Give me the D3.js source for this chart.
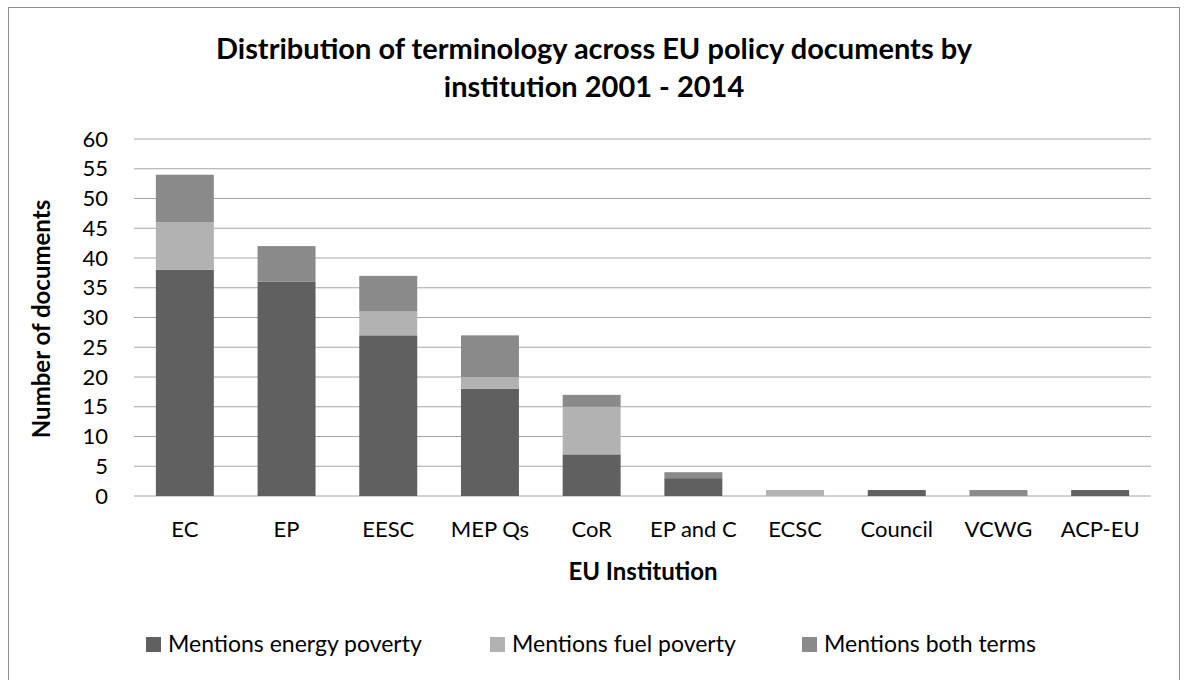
<!DOCTYPE html>
<html><head><meta charset="utf-8">
<script src="https://cdn.jsdelivr.net/npm/d3@7/dist/d3.min.js"></script>
<style>body{margin:0;background:#fff}svg{display:block}text{font-family:Lato,"Open Sans",sans-serif}</style>
</head><body><svg id="c" width="1186" height="680"></svg>
<script>
const categories = ["EC","EP","EESC","MEP Qs","CoR","EP and C","ECSC","Council","VCWG","ACP-EU"];
const energyPoverty = [38,36,27,18,7,3,0,1,0,1];
const fuelPoverty   = [8,0,4,2,8,0,1,0,0,0];
const bothTerms     = [8,6,6,7,2,1,0,0,1,0];
const seriesNames = ["Mentions energy poverty","Mentions fuel poverty","Mentions both terms"];
const yTicks = [0,5,10,15,20,25,30,35,40,45,50,55,60];
const colors = ["#606060","#b2b2b2","#8a8a8a"];

const svg = d3.select("#c");
svg.append("rect").attr("x",8.5).attr("y",7.5).attr("width",1171).attr("height",690)
  .attr("fill","#fff").attr("stroke","#8f8f8f");

const m = {l:134,r:1151,t:139,b:496};
const x = d3.scaleBand().domain(categories).range([m.l,m.r]).paddingInner(0.43).paddingOuter(0.215);
const y = d3.scaleLinear().domain([0,60]).range([m.b,m.t]);

svg.append("g").selectAll("line").data(yTicks).join("line")
  .attr("x1",m.l).attr("x2",m.r).attr("y1",d=>y(d)).attr("y2",d=>y(d))
  .attr("stroke","#a6a6a6").attr("stroke-width",1.2);

const table = categories.map((c,i)=>({cat:c,s0:energyPoverty[i],s1:fuelPoverty[i],s2:bothTerms[i]}));
const stack = d3.stack().keys(["s0","s1","s2"])(table);
svg.append("g").selectAll("g").data(stack).join("g").attr("fill",(d,i)=>colors[i])
  .selectAll("rect").data(d=>d.filter(p=>p[1]>p[0])).join("rect")
  .attr("x",d=>x(d.data.cat)).attr("width",x.bandwidth())
  .attr("y",d=>y(d[1])).attr("height",d=>y(d[0])-y(d[1]));

const ya = svg.append("g").attr("transform",`translate(108,0)`)
  .call(d3.axisLeft(y).tickValues(yTicks).tickSize(0).tickPadding(0));
ya.select(".domain").remove();
ya.selectAll("text").attr("font-size",22).attr("fill","#000").attr("font-family","Lato, sans-serif");

const xa = svg.append("g").attr("transform",`translate(0,${m.b})`)
  .call(d3.axisBottom(x).tickSize(0).tickPadding(0));
xa.select(".domain").remove();
xa.selectAll("text").attr("font-size",22).attr("fill","#000").attr("font-family","Lato, sans-serif")
  .attr("dy",null).attr("y",41);

svg.append("text").attr("x",594).attr("y",59).attr("text-anchor","middle")
  .attr("font-size",29).attr("font-weight","bold").text("Distribution of terminology across EU policy documents by");
svg.append("text").attr("x",594).attr("y",97).attr("text-anchor","middle")
  .attr("font-size",29).attr("font-weight","bold").text("institution 2001 - 2014");

svg.append("text").attr("transform","translate(50,319) rotate(-90)").attr("text-anchor","middle")
  .attr("font-size",24).attr("font-weight","bold").text("Number of documents");
svg.append("text").attr("x",643).attr("y",580).attr("text-anchor","middle")
  .attr("font-size",24).attr("font-weight","bold").text("EU Institution");

const legX = [146,490,802];
const lg = svg.append("g").selectAll("g").data(seriesNames).join("g")
  .attr("transform",(d,i)=>`translate(${legX[i]},652)`);
lg.append("rect").attr("x",0).attr("y",-15).attr("width",15).attr("height",15).attr("fill",(d,i)=>colors[i]);
lg.append("text").attr("x",22).attr("y",0).attr("font-size",23).text(d=>d);
</script></body></html>
